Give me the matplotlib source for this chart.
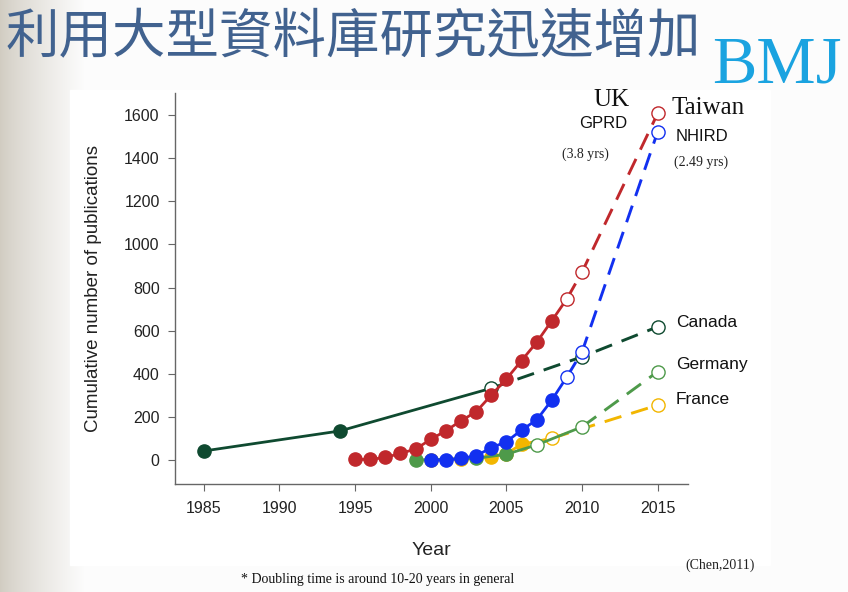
import matplotlib.pyplot as plt
import numpy as np
from matplotlib.patches import Rectangle

# 資料
canada_years = [1985, 1994, 2004, 2010, 2015]
canada_vals = [42, 135, 333, 479, 618]

uk_years = [1995, 1996, 1997, 1998, 1999, 2000, 2001, 2002, 2003, 2004,
            2005, 2006, 2007, 2008, 2009, 2010, 2015]
uk_vals = [3, 3, 12, 31, 51, 96, 136, 182, 224, 301,
           376, 461, 546, 646, 748, 872, 1608]

tw_years = [2000, 2001, 2002, 2003, 2004, 2005, 2006, 2007, 2008, 2009, 2010, 2015]
tw_vals = [0, 0, 8, 20, 57, 85, 139, 186, 278, 386, 502, 1523]

de_years = [1999, 2003, 2005, 2007, 2010, 2015]
de_vals = [0, 8, 27, 70, 154, 410]

fr_years = [2000, 2002, 2004, 2005, 2006, 2008, 2015]
fr_vals = [2, 6, 16, 30, 73, 101, 255]

xticks = [1985, 1990, 1995, 2000, 2005, 2010, 2015]
yticks = [0, 200, 400, 600, 800, 1000, 1200, 1400, 1600]

sans = 'Liberation Sans'
serif = 'Liberation Serif'

fig = plt.figure(figsize=(8.48, 5.92), dpi=100)

# slide background (gradient on the left)
bg = fig.add_axes([0, 0, 1, 1])
bg.set_xlim(0, 848)
bg.set_ylim(592, 0)
bg.axis('off')
xs = np.linspace(0, 1, 848)
g = np.clip(xs / 0.1, 0, 1) ** 0.8
c0 = np.array([0.82, 0.80, 0.76])
c1 = np.array([0.99, 0.99, 0.99])
row = c0[None, :] * (1 - g[:, None]) + c1[None, :] * g[:, None]
img = np.tile(row[None, :, :], (592, 1, 1))
bg.imshow(img, extent=[0, 848, 592, 0], aspect='auto')
bg.add_patch(Rectangle((70, 90), 700, 475, color='white', zorder=2))

ax = fig.add_axes([175 / 848, 1 - 484 / 592, (688 - 175) / 848, (484 - 93) / 592])
ax.patch.set_alpha(0)


def draw(years, vals, n_filled, solid_end, color, z):
    ax.plot(years[:solid_end + 1], vals[:solid_end + 1], '-', color=color, lw=2.0, zorder=z)
    ax.plot(years[solid_end:], vals[solid_end:], '--', color=color, lw=2.1,
            dashes=(6, 3.5), zorder=z)
    ax.plot(years[:n_filled], vals[:n_filled], 'o', color=color, ms=9.5, zorder=z + 0.1)
    ax.plot(years[n_filled:], vals[n_filled:], 'o', mfc='white', mec=color, mew=1.0,
            ms=9.5, zorder=z + 0.1)


draw(canada_years, canada_vals, 2, 2, '#0f4a30', 2)
draw(fr_years, fr_vals, 5, 5, '#f2b600', 3)
draw(de_years, de_vals, 3, 4, '#4e9a4a', 3.5)
draw(tw_years, tw_vals, 9, 9, '#1230f0', 4)
draw(uk_years, uk_vals, 14, 14, '#c0282c', 5)

ax.set_xlim(1983.1, 2017)
ax.set_ylim(-111, 1702)
ax.set_xticks(xticks)
ax.set_yticks(yticks)
for s in ['top', 'right']:
    ax.spines[s].set_visible(False)
for s in ['left', 'bottom']:
    ax.spines[s].set_color('#666666')
    ax.spines[s].set_linewidth(1.0)
ax.tick_params(length=5, width=0.8, color='#666666', labelsize=11.5, labelcolor='#222222')
for lab in ax.get_xticklabels() + ax.get_yticklabels():
    lab.set_family(sans)
ax.tick_params(axis='x', pad=7)
ax.tick_params(axis='y', pad=6)
ax.set_xlabel('Year', family=sans, fontsize=14, color='#222222', labelpad=19)
ax.set_ylabel('Cumulative number of publications', family=sans, fontsize=13.5,
              color='#222222', labelpad=16)

# labels next to the lines
fig.text(612 / 848, 1 - 100 / 592, 'UK', family=serif, fontsize=18, ha='center', va='center', color='#111111')
fig.text(603 / 848, 1 - 124 / 592, 'GPRD', family=sans, fontsize=12, ha='center', va='center', color='#111111')
fig.text(585 / 848, 1 - 154 / 592, '(3.8 yrs)', family=serif, fontsize=10, ha='center', va='center', color='#222222')
fig.text(672 / 848, 1 - 108 / 592, 'Taiwan', family=serif, fontsize=18, ha='left', va='center', color='#111111')
fig.text(676 / 848, 1 - 137 / 592, 'NHIRD', family=sans, fontsize=12, ha='left', va='center', color='#111111')
fig.text(674 / 848, 1 - 162 / 592, '(2.49 yrs)', family=serif, fontsize=10, ha='left', va='center', color='#222222')
fig.text(676 / 848, 1 - 322 / 592, 'Canada', family=sans, fontsize=12.5, ha='left', va='center', color='#111111')
fig.text(676 / 848, 1 - 365 / 592, 'Germany', family=sans, fontsize=12.5, ha='left', va='center', color='#111111')
fig.text(676 / 848, 1 - 400 / 592, 'France', family=sans, fontsize=12.5, ha='left', va='center', color='#111111')

fig.text(720 / 848, 1 - 565 / 592, '(Chen,2011)', family=serif, fontsize=10, ha='center', va='center', color='#222222')
fig.text(378 / 848, 1 - 580 / 592, '* Doubling time is around 10-20 years in general', family=serif,
         fontsize=10, ha='center', va='center', color='#111111')

# slide title
fig.text(6 / 848, 1 - 38 / 592, '利用大型資料庫研究迅速增加', family=['Noto Sans CJK TC', 'DejaVu Sans'],
         fontsize=38.5, ha='left', va='center', color='#41628f')
fig.text(777 / 848, 1 - 66 / 592, 'BMJ', family=serif, fontsize=48, ha='center', va='center', color='#1aa3e0')

fig.savefig('out.png', dpi=100)
